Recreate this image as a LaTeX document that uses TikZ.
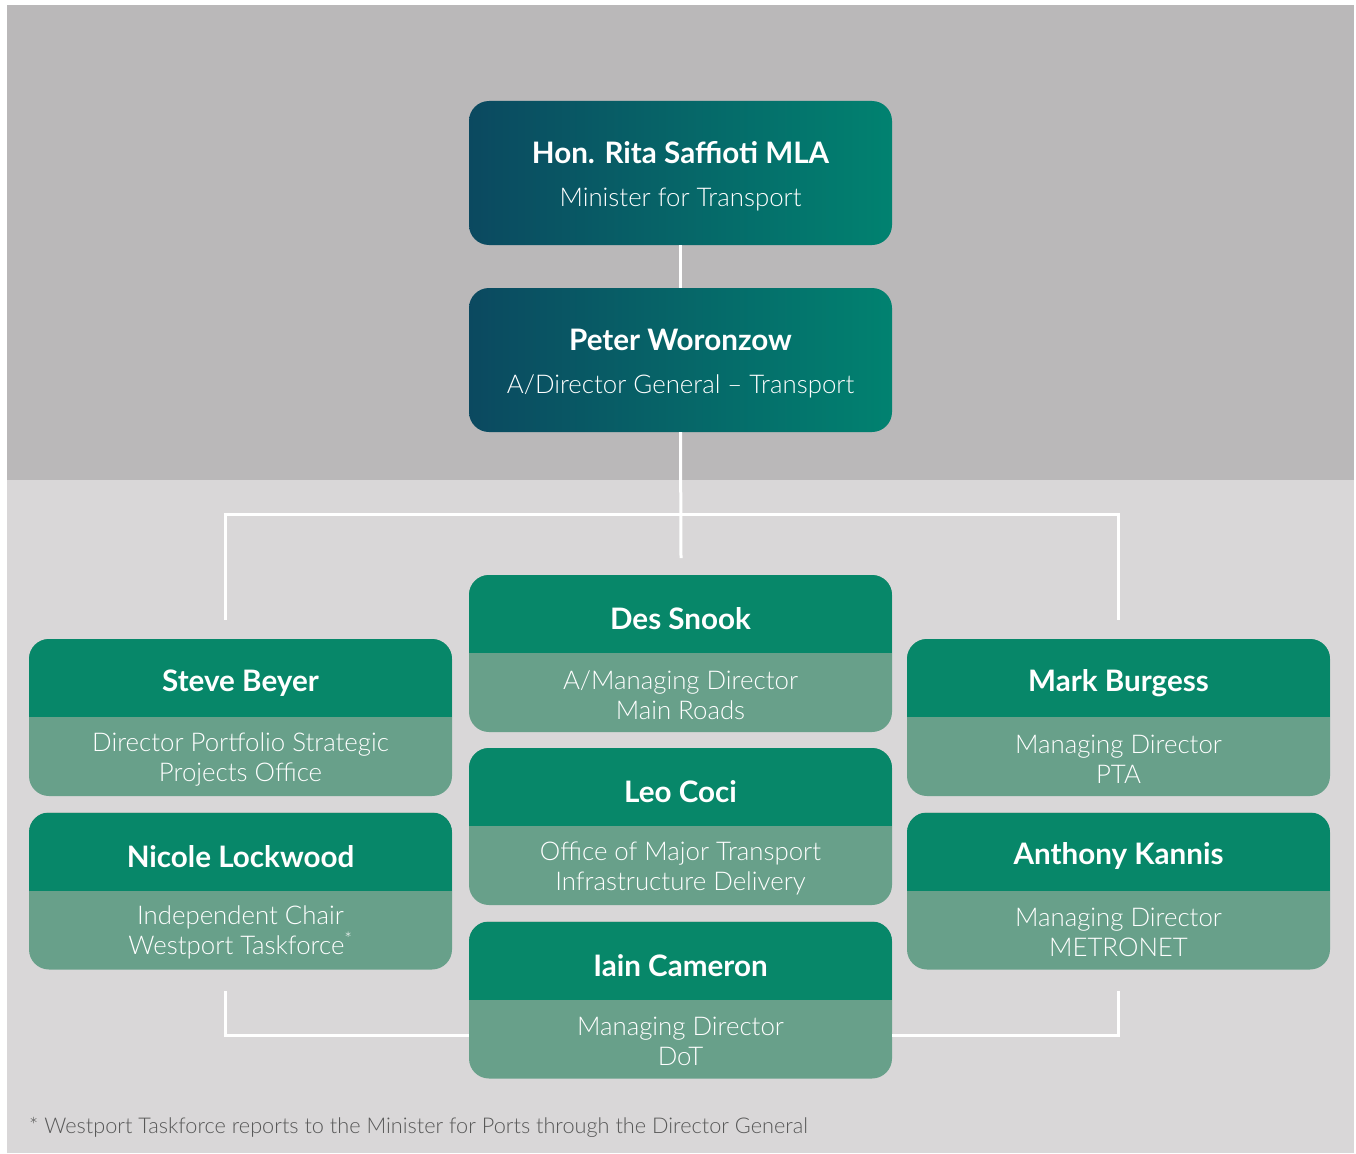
\documentclass[tikz,border=0pt]{standalone}
\usepackage{fontspec}
\setmainfont{Lato}
\newfontfamily\lightf{Lato Light}
\usetikzlibrary{calc}
\definecolor{topbg}{RGB}{186,184,185}
\definecolor{botbg}{RGB}{217,215,216}
\definecolor{hdr}{RGB}{7,135,105}
\definecolor{subc}{RGB}{104,160,138}
\definecolor{gradL}{RGB}{11,73,96}
\definecolor{gradR}{RGB}{1,130,112}
\definecolor{foot}{RGB}{88,88,88}
\begin{document}
\begin{tikzpicture}[x=1pt,y=-1pt,
 topcard/.style={rectangle, rounded corners=20pt, minimum width=423pt, minimum height=144pt, left color=gradL, right color=gradR, inner sep=0pt},
 card/.style={rectangle, rounded corners=20pt, minimum width=423pt, minimum height=157pt, fill=subc, inner sep=0pt,
   path picture={\fill[hdr, sharp corners] (path picture bounding box.north west) rectangle ([yshift=-78pt]path picture bounding box.north east);}},
 pname/.style={text=white, font=\bfseries\fontsize{29.6}{30}\selectfont, inner sep=0pt},
 role/.style={text=white, font=\lightf\fontsize{25.8}{30}\selectfont, align=center, inner sep=0pt},
 conn/.style={draw=white, line width=3pt}]
\useasboundingbox (0,0) rectangle (1356,1153);
\fill[white] (0,0) rectangle (1356,1153);
\fill[topbg] (7,5) rectangle (1354,480);
\fill[botbg] (7,480) rectangle (1354,1153);

% top cards
\node[topcard] (hon) at (680.5,173) {};
\node[pname] (honN) at ($(hon.north)+(0,52)$) {Hon. Rita Saffioti MLA};
\node[role] (honR) at ($(hon.north)+(0,99)$) {Minister for Transport};
\node[topcard] (pw) at (680.5,360) {};
\node[pname] (pwN) at ($(pw.north)+(0,52)$) {Peter Woronzow};
\node[role] (pwR) at ($(pw.north)+(0,99)$) {A/Director General \textendash{} Transport};

% cards
\newcommand{\orgcard}[5]{%
 \node[card] (#1) at (#2,#3) {};
 \node[pname] (#1N) at ($(#1.north)+(0,44)$) {#4};
 \node[role] (#1R) at ($(#1.south)+(0,-37)$) {#5};}
\orgcard{sb}{240.5}{717.5}{Steve Beyer}{Director Portfolio Strategic\\Projects Office}
\orgcard{nl}{240.5}{891}{Nicole Lockwood}{Independent Chair\\Westport Taskforce\textsuperscript{*}}
\orgcard{ds}{680.5}{653.5}{Des Snook}{A/Managing Director\\Main Roads}
\orgcard{lc}{680.5}{826.5}{Leo Coci}{Office of Major Transport\\Infrastructure Delivery}
\orgcard{ic}{680.5}{1000}{Iain Cameron}{Managing Director\\DoT}
\orgcard{mb}{1118.5}{717.5}{Mark Burgess}{Managing Director\\PTA}
\orgcard{ak}{1118.5}{891}{Anthony Kannis}{Managing Director\\METRONET}

% connectors
\coordinate (busL) at (225,514);
\coordinate (busR) at (1118,514);
\coordinate (endM) at (681,558);
\coordinate (endL) at (225,620);
\coordinate (endR) at (1118,620);
\coordinate (botL) at (225,991);
\coordinate (botR) at (1118,991);
\coordinate (cornL) at (225,1035);
\coordinate (cornR) at (1118,1035);
\draw[conn] (hon.south) -- (pw.north);
\draw[conn] (pw.south) -- (endM);
\draw[conn] (endL) -- (busL) -- (busR) -- (endR);
\draw[conn] (botL) -- (cornL) -- (ic.west |- cornL);
\draw[conn] (botR) -- (cornR) -- (ic.east |- cornR);

\node[anchor=west, text=foot, font=\lightf\fontsize{21.7}{24}\selectfont, inner sep=0pt] (fn) at (29,1127) {* Westport Taskforce reports to the Minister for Ports through the Director General};
\end{tikzpicture}
\end{document}
